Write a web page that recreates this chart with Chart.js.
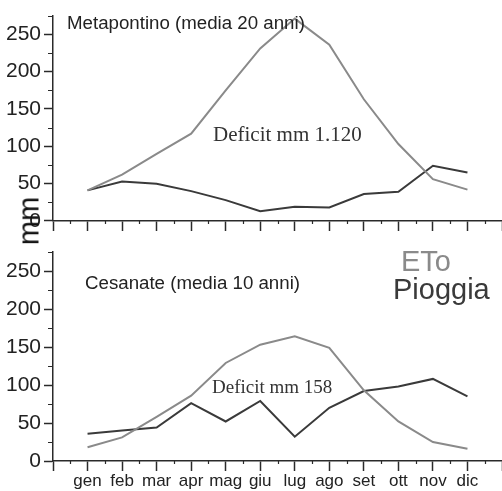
<!DOCTYPE html>
<html>
<head>
<meta charset="utf-8">
<script src="https://cdn.jsdelivr.net/npm/chart.js@4/dist/chart.umd.min.js"></script>
<style>
  html, body { margin:0; padding:0; background:#fff; }
  #wrap { position:relative; width:502px; height:491px; overflow:hidden; }
  #wrap canvas { position:absolute; left:0; top:0; }
  .t { position:absolute; white-space:pre; line-height:1; }
  .sans { font-family:"Liberation Sans", Arial, sans-serif; color:#222; }
  .serif { font-family:"Liberation Serif", "Times New Roman", serif; color:#333; }
</style>
</head>
<body>
<div id="wrap">
  <canvas id="cTop" width="502" height="491"></canvas>
  <canvas id="cBot" width="502" height="491"></canvas>

  <div class="t sans" style="left:67px; top:14px; font-size:18.7px;">Metapontino (media 20 anni)</div>
  <div class="t serif" style="left:213px; top:124px; font-size:21px;">Deficit mm 1.120</div>

  <div class="t sans" style="left:85px; top:274px; font-size:18.7px;">Cesanate (media 10 anni)</div>
  <div class="t serif" style="left:212px; top:377px; font-size:19px;">Deficit mm 158</div>

  <div class="t sans" style="left:401px; top:247px; font-size:29px; color:#8a8a8a;">ETo</div>
  <div class="t sans" style="left:393px; top:275px; font-size:29px; color:#3a3a3a;">Pioggia</div>

  <div class="t sans" style="left:29px; top:221px; font-size:29px; color:#111; transform:translate(-50%,-50%) rotate(-90deg);">mm</div>
</div>

<script>
// mesi e valori mensili (mm)
const months = ['gen','feb','mar','apr','mag','giu','lug','ago','set','ott','nov','dic'];

const etoMetapontino     = [41, 62, 90, 117, 175, 231, 271, 236, 163, 103, 56, 42];
const pioggiaMetapontino = [41, 53, 50, 40, 28, 13, 19, 18, 36, 39, 74, 65];

const etoCesanate     = [18, 31, 58, 86, 129, 153, 164, 149, 93, 52, 25, 16];
const pioggiaCesanate = [36, 40, 44, 76, 52, 79, 32, 70, 92, 98, 108, 85];

const yTicks = [0, 50, 100, 150, 200, 250];

const GRAY = '#8a8a8a';
const DARK = '#3a3a3a';
const AXIS = '#2a2a2a';

const toXY = arr => arr.map((v, i) => ({ x: i + 1, y: v }));

// tacche secondarie (25 mm sull'asse y, mezzo mese sull'asse x)
const minorTicks = {
  id: 'minorTicks',
  afterDraw(chart){
    const { ctx, scales:{ x, y } } = chart;
    const x0 = x.getPixelForValue(0);
    const y0 = y.getPixelForValue(0);
    ctx.save();
    ctx.strokeStyle = AXIS;
    ctx.lineWidth = 1.2;
    ctx.beginPath();
    for (let v = 25; v <= 275; v += 50){
      const py = Math.round(y.getPixelForValue(v)) + 0.5;
      ctx.moveTo(x0 - 5, py); ctx.lineTo(x0, py);
    }
    for (let v = 0.5; v < 13; v += 1){
      const px = Math.round(x.getPixelForValue(v)) + 0.5;
      ctx.moveTo(px, y0); ctx.lineTo(px, y0 + 3);
    }
    ctx.stroke();
    ctx.restore();
  }
};

function makeChart(id, eto, rain, padTop, padBottom, xHeight, showLabels){
  return new Chart(document.getElementById(id), {
    type: 'line',
    data: {
      datasets: [
        { label:'ETo', data: toXY(eto), borderColor: GRAY, borderWidth: 2 },
        { label:'Pioggia', data: toXY(rain), borderColor: DARK, borderWidth: 2 },
      ]
    },
    options: {
      responsive: false,
      animation: false,
      devicePixelRatio: 1,
      layout: { padding: { top: padTop, bottom: padBottom, left: 0, right: 0 } },
      elements: { point: { radius: 0 }, line: { tension: 0 } },
      plugins: { legend: { display:false }, tooltip: { enabled:false } },
      scales: {
        x: {
          type: 'linear', min: 0, max: 13,
          afterFit(s){ s.height = xHeight; },
          border: { display:true, color: AXIS, width: 1.5 },
          grid: { drawOnChartArea:false, drawTicks:true, tickLength:10, tickColor: AXIS, tickWidth:1.5 },
          ticks: {
            display: showLabels, stepSize: 1, autoSkip:false, maxRotation:0, padding: 0,
            color:'#222', font:{ family:'"Liberation Sans", Arial, sans-serif', size:17 },
            callback: v => months[v - 1] || ''
          }
        },
        y: {
          min: 0, max: 275,
          afterFit(s){ s.width = 53; },
          afterBuildTicks(s){ s.ticks = yTicks.map(v => ({ value: v })); },
          border: { display:true, color: AXIS, width: 1.5 },
          grid: { drawOnChartArea:false, drawTicks:true, tickLength:9, tickColor: AXIS, tickWidth:1.5 },
          ticks: {
            padding: 3, color:'#222',
            font:{ family:'"Liberation Sans", Arial, sans-serif', size:21 }
          }
        }
      }
    },
    plugins: [minorTicks]
  });
}

makeChart('cTop', etoMetapontino, pioggiaMetapontino, 12, 246, 24, false);
makeChart('cBot', etoCesanate, pioggiaCesanate, 252, 0, 30, true);
</script>
</body>
</html>
